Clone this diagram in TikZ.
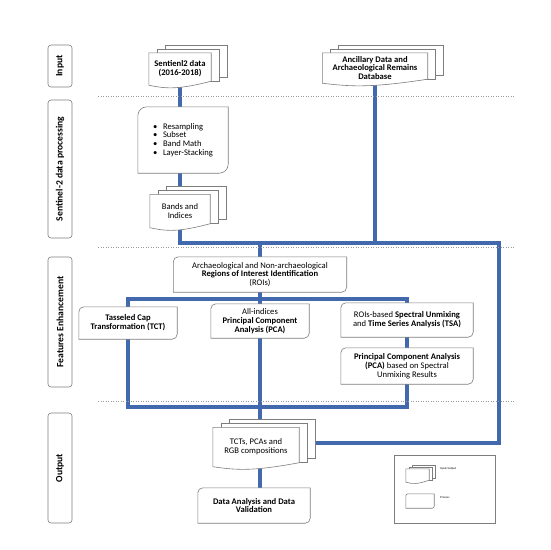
\documentclass[tikz,border=0pt]{standalone}
\usepackage{fontspec}
\setmainfont{Carlito}
\usetikzlibrary{calc,backgrounds}
\definecolor{flowblue}{RGB}{66,104,174}
\definecolor{boxgray}{RGB}{125,125,125}
\tikzset{
  flow/.style={draw=flowblue,line width=3.4pt,line cap=rect},
  sheet/.style={draw=boxgray,fill=white,line width=0.6pt},
  txt/.style={align=center,font=\fontsize{8.6}{8.8}\selectfont,inner sep=1pt},
  sidebox/.style={draw=boxgray,rounded corners=3pt,line width=0.6pt,rotate=90,
    minimum height=24pt,inner sep=0pt,font=\fontsize{9.6}{10}\selectfont\bfseries},
  sep/.style={draw=gray!80,dotted,line width=0.5pt},
}
% stack of three sheets behind node #1, offset #2/#3
\newcommand{\docs}[3]{%
  \foreach \d in {2,1}
    \draw[sheet] ([shift={(\d*#2,\d*#3)}]#1.south west) rectangle ([shift={(\d*#2,\d*#3)}]#1.north east);
  \draw[sheet] (#1.south west) -- (#1.north west) -- (#1.north east) -- ([yshift=#3]#1.south east)
    .. controls ($(#1.south)+(0pt,-#3)$) and ($(#1.south west)!0.3!(#1.south east)+(0pt,-#3)$) .. (#1.south west) -- cycle;
}
% process box with two round corners
\newcommand{\rdbox}[2]{%
  \draw[sheet] ([xshift=#2]#1.north west) -- (#1.north east) -- ([yshift=#2]#1.south east)
    arc[start angle=0,end angle=-90,radius=#2] -- (#1.south west) -- ([yshift=-#2]#1.north west)
    arc[start angle=180,end angle=90,radius=#2] -- cycle;
}
\begin{document}
\begin{tikzpicture}[x=1pt,y=-1pt]
\useasboundingbox (0,0) rectangle (550,550);

% stages
\begin{scope}[every node/.style={sidebox}]
\node[minimum width=42pt] (Input) at (60,66) {Input};
\node[minimum width=138pt] (Processing) at (60,169) {Sentinel-2 data processing};
\node[minimum width=130pt] (Enhancement) at (60,322) {Features Enhancement};
\node[minimum width=110pt] (Output) at (60,468) {Output};
\end{scope}

\draw[sep] (98,96) -- (515,96);
\draw[sep] (98,247) -- (515,247);
\draw[sep] (98,401) -- (515,401);

% data
\begin{scope}[every node/.style={txt}]
\node[minimum width=62pt,minimum height=32pt] (S2) at (180,69) {\textbf{Sentienl2 data}\\\textbf{(2016-2018)}};
\node[minimum width=105pt,minimum height=30pt] (Ancillary) at (375,68) {\textbf{Ancillary Data and}\\\textbf{Archaeological Remains}\\\textbf{Database}};
\node[minimum width=60pt,minimum height=33pt] (Bands) at (180,211) {Bands and\\Indices};
\node[minimum width=86pt,minimum height=39pt] (TCTs) at (256,447) {TCTs, PCAs and\\RGB compositions};
\node[minimum width=23pt,minimum height=13pt] (LegDoc) at (417.5,475.5) {};
\end{scope}

% processes
\begin{scope}[every node/.style={txt}]
\node[minimum width=90pt,minimum height=66pt,align=left] (Prep) at (183,140) {\makebox[10pt][l]{\textbullet}Resampling\\\makebox[10pt][l]{\textbullet}Subset\\\makebox[10pt][l]{\textbullet}Band Math\\\makebox[10pt][l]{\textbullet}Layer-Stacking};
\node[minimum width=173pt,minimum height=35pt] (ROI) at (260,274.5) {Archaeological and Non-archaeological\\\textbf{Regions of Interest Identification}\\(ROIs)};
\node[minimum width=98pt,minimum height=32pt] (TCT) at (128,323) {\textbf{Tasseled Cap}\\\textbf{Transformation (TCT)}};
\node[minimum width=98pt,minimum height=34pt] (PCA) at (260,321) {All-indices\\\textbf{Principal Component}\\\textbf{Analysis (PCA)}};
\node[minimum width=132pt,minimum height=34pt] (SU) at (407,320) {ROIs-based \textbf{Spectral Unmixing}\\and \textbf{Time Series Analysis (TSA)}};
\node[minimum width=132pt,minimum height=36pt] (PCAS) at (407,366) {\textbf{Principal Component Analysis}\\\textbf{(PCA)} based on Spectral\\Unmixing Results};
\node[minimum width=112pt,minimum height=35pt] (DAV) at (254,505.5) {\textbf{Data Analysis and Data}\\\textbf{Validation}};
\node[minimum width=28pt,minimum height=14pt] (LegProc) at (420,501) {};
\end{scope}

% legend
\node[draw=boxgray,line width=0.6pt,minimum width=101pt,minimum height=68pt] (Legend) at (444.5,489) {};
\node[anchor=west,inner sep=0pt,font=\fontsize{3}{3.5}\selectfont] (LegIO) at (440,469) {Input/output};
\node[anchor=west,inner sep=0pt,font=\fontsize{3}{3.5}\selectfont] (LegP) at (440,498) {Process};

\coordinate (jL) at (180,243);
\coordinate (jM) at (260,243);
\coordinate (jA) at (375,243);
\coordinate (jR) at (499,243);
\coordinate (jR2) at (499,443);
\coordinate (kL) at (128,299);
\coordinate (kM) at (260,299);
\coordinate (kR) at (407,299);
\coordinate (mL) at (128,407);
\coordinate (mR) at (407,407);

\begin{pgfonlayer}{background}
\begin{scope}[every edge/.style={flow}]
    \path (S2) edge (S2.south |- Prep.north);
    \path (S2.south |- Prep.south) edge (Bands);
    \path (Bands) edge (jL);
    \path (jL) edge (jR);
    \path (Ancillary) edge (jA);
    \path (jM) edge (ROI);
    \path (jR) edge (jR2);
    \path (jR2) edge ([shift={(16pt,4pt)}]TCTs.east);
    \path (ROI) edge (kM);
    \path (kL) edge (kR);
    \path (kL) edge (TCT);
    \path (kM) edge (PCA);
    \path (kR) edge (SU);
    \path (SU) edge (PCAS);
    \path (TCT) edge (mL);
    \path (mL) edge (mR);
    \path (PCAS) edge (mR);
    \path (PCA) edge (PCA.south |- TCTs.north);
    \path (PCA.south |- TCTs.south) edge (PCA.south |- DAV.north);
\end{scope}
\docs{S2}{8pt}{4pt}
\docs{Ancillary}{8pt}{4pt}
\docs{Bands}{8pt}{4pt}
\docs{TCTs}{8pt}{4pt}
\docs{LegDoc}{3pt}{2pt}
\rdbox{Prep}{9pt}
\rdbox{ROI}{5pt}
\rdbox{TCT}{5pt}
\rdbox{PCA}{5pt}
\rdbox{SU}{5pt}
\rdbox{PCAS}{5pt}
\rdbox{DAV}{5pt}
\rdbox{LegProc}{2pt}
\end{pgfonlayer}
\end{tikzpicture}
\end{document}
